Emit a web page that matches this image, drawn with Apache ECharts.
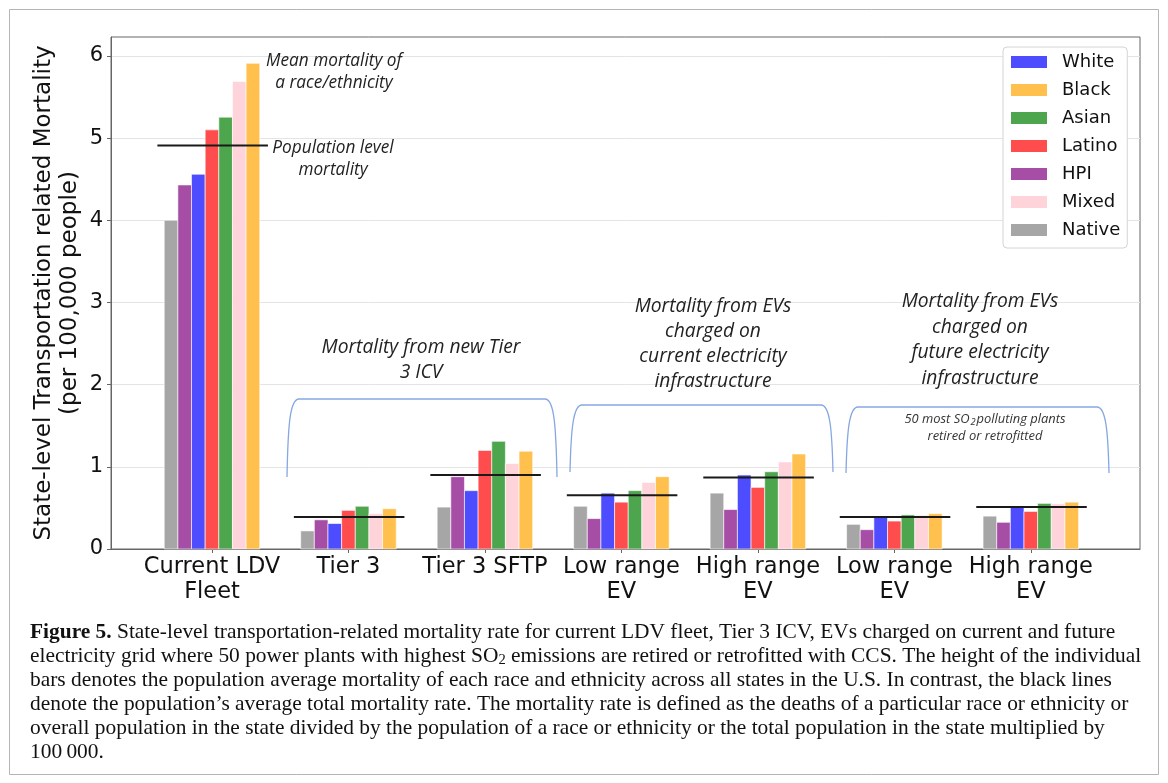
<!DOCTYPE html>
<html><head><meta charset="utf-8">
<script src="https://cdn.jsdelivr.net/npm/echarts@6/dist/echarts.min.js"></script>
<style>html,body{margin:0;padding:0;background:#fff}#c{width:1168px;height:783px}</style>
</head><body><div id="c"></div>
<script>
// ---- data ----
const categories = ['Current LDV\nFleet', 'Tier 3', 'Tier 3 SFTP', 'Low range\nEV', 'High range\nEV', 'Low range\nEV', 'High range\nEV'];
const native = [4.00, 0.22, 0.51, 0.52, 0.68, 0.30, 0.40];
const hpi    = [4.43, 0.355, 0.88, 0.37, 0.48, 0.235, 0.325];
const white  = [4.56, 0.31, 0.71, 0.68, 0.90, 0.39, 0.51];
const latino = [5.10, 0.47, 1.20, 0.57, 0.75, 0.34, 0.457];
const asian  = [5.255, 0.52, 1.31, 0.71, 0.94, 0.415, 0.555];
const mixed  = [5.69, 0.43, 1.04, 0.81, 1.06, 0.41, 0.55];
const black  = [5.91, 0.49, 1.19, 0.88, 1.156, 0.43, 0.57];
const population = [4.91, 0.39, 0.90, 0.654, 0.87, 0.39, 0.51];
const yTicks = [0, 1, 2, 3, 4, 5, 6];
const legendOrder = ['White', 'Black', 'Asian', 'Latino', 'HPI', 'Mixed', 'Native'];

// ---- drawing ----
const catIdx = categories.map((c, i) => i);
const seriesDefs = [
  {name: 'Native', data: native, color: '#A6A6A6'},
  {name: 'HPI', data: hpi, color: '#A64DA6'},
  {name: 'White', data: white, color: '#4D4DFF'},
  {name: 'Latino', data: latino, color: '#FF4D4D'},
  {name: 'Asian', data: asian, color: '#4DA64D'},
  {name: 'Mixed', data: mixed, color: '#FFD3DA'},
  {name: 'Black', data: black, color: '#FFC04D'}
];
const BW = 0.1;
function barRenderer(slot, color) {
  return function (params, api) {
    const x = api.value(0) + (slot - 3) * BW;
    const v = api.value(1);
    const a = api.coord([x - BW / 2, 0]);
    const b = api.coord([x + BW / 2, v]);
    return {type: 'rect', shape: {x: a[0], y: b[1], width: b[0] - a[0], height: a[1] - b[1]},
      style: {fill: color, stroke: '#ffffff', lineWidth: 0.6}};
  };
}
const series = seriesDefs.map((d, k) => ({
  name: d.name, type: 'custom', coordinateSystem: 'cartesian2d',
  itemStyle: {color: d.color},
  renderItem: barRenderer(k, d.color),
  data: catIdx.map(i => [i, d.data[i]]), z: 2, clip: false
}));
series.push({
  name: 'Population', type: 'custom', coordinateSystem: 'cartesian2d', z: 5,
  renderItem: function (params, api) {
    const i = api.value(0), v = api.value(1);
    const a = api.coord([i - 0.40, v]), b = api.coord([i + 0.41, v]);
    return {type: 'line', shape: {x1: a[0], y1: a[1], x2: b[0], y2: b[1]}, style: {stroke: '#1a1a1a', lineWidth: 2}};
  },
  data: catIdx.map(i => [i, population[i]])
});

// text-size fitting helper
const mctx = document.createElement('canvas').getContext('2d');
function fitSize(text, family, style, weight, target) {
  mctx.font = style + ' ' + weight + ' 100px ' + family;
  return 100 * target / mctx.measureText(text).width;
}

const braceStyle = {fill: null, stroke: '#86A7E2', lineWidth: 1.3};
function brace(x1, x2, yTop, yBot) {
  return [
    {type: 'bezierCurve', silent: true, z: 10, style: braceStyle,
      shape: {x1: x1, y1: yBot, cpx1: x1 + 1, cpy1: yTop + 25, cpx2: x1 + 3, cpy2: yTop, x2: x1 + 12, y2: yTop}},
    {type: 'line', silent: true, z: 10, style: braceStyle,
      shape: {x1: x1 + 12, y1: yTop, x2: x2 - 12, y2: yTop}},
    {type: 'bezierCurve', silent: true, z: 10, style: braceStyle,
      shape: {x1: x2, y1: yBot, cpx1: x2 - 1, cpy1: yTop + 25, cpx2: x2 - 3, cpy2: yTop, x2: x2 - 12, y2: yTop}}
  ];
}
const annFont = '"Open Sans", Lato, sans-serif';
const sizeSmallAnn = fitSize('Mean mortality of', annFont, 'italic', 'normal', 136);
const sizeGroupAnn = fitSize('Mortality from new Tier', annFont, 'italic', 'normal', 199);
const sizeTinyAnn = fitSize('retired or retrofitted', annFont, 'italic', 'normal', 115);
function ann(text, x, y, size, lh) {
  return {type: 'text', x: x, y: y, z: 10, silent: true,
    style: {text: text, textAlign: 'center', textVerticalAlign: 'middle', fontStyle: 'italic',
      fontSize: size, fontFamily: annFont, lineHeight: lh, fill: '#222'}};
}
const capFamily = '"Liberation Serif", "DejaVu Serif", serif';
const capSize = fitSize('bars denotes the population average mortality of each race and ethnicity across all states in the U.S. In contrast, the black lines', capFamily, 'normal', 'normal', 1083);
const capBase = {fontFamily: capFamily, fontSize: capSize, fill: '#111', lineHeight: 24};
const capRich = {
  n: capBase,
  b: Object.assign({}, capBase, {fontWeight: 'bold'}),
  s: Object.assign({}, capBase, {fontSize: capSize * 0.68, lineHeight: 24, padding: [9, 0, 0, 0]})
};
const capLines = [
  '{b|Figure 5.}{n| State-level transportation-related mortality rate for current LDV fleet, Tier 3 ICV, EVs charged on current and future}',
  '{n|electricity grid where 50 power plants with highest SO}{s|2}{n| emissions are retired or retrofitted with CCS. The height of the individual}',
  '{n|bars denotes the population average mortality of each race and ethnicity across all states in the U.S. In contrast, the black lines}',
  '{n|denote the population\u2019s average total mortality rate. The mortality rate is defined as the deaths of a particular race or ethnicity or}',
  '{n|overall population in the state divided by the population of a race or ethnicity or the total population in the state multiplied by}',
  '{n|100\u2009000.}'
];
const graphics = [
  {type: 'rect', shape: {x: 9.5, y: 9.5, width: 1149, height: 765}, style: {fill: null, stroke: '#b5b5b5', lineWidth: 1}, silent: true, z: 0}
].concat(
  brace(287, 557, 399, 477),
  brace(570, 833, 405, 472),
  brace(846, 1109, 407, 473),
  [
    ann('Mean mortality of\na race/ethnicity', 334, 72, sizeSmallAnn, 22),
    ann('Population level\nmortality', 333, 159, sizeSmallAnn, 22),
    ann('Mortality from new Tier\n3 ICV', 421, 360, sizeGroupAnn, 25),
    ann('Mortality from EVs\ncharged on\ncurrent electricity\ninfrastructure', 713, 344, sizeGroupAnn, 25),
    ann('Mortality from EVs\ncharged on\nfuture electricity\ninfrastructure', 980, 340, sizeGroupAnn, 25.5),
    {type: 'text', x: 985, y: 428, z: 10, silent: true,
      style: {text: '{a|50 most SO}{s|2}{a|polluting plants}\n{a|retired or retrofitted}', textAlign: 'center', textVerticalAlign: 'middle',
        rich: {a: {fontStyle: 'italic', fontSize: sizeTinyAnn, fontFamily: annFont, fill: '#333', lineHeight: 17},
               s: {fontStyle: 'italic', fontSize: sizeTinyAnn * 0.72, fontFamily: annFont, fill: '#333', lineHeight: 17, padding: [5, 1, 0, 1]}}}}
  ]
);
capLines.forEach((t, i) => {
  graphics.push({type: 'text', x: 30, y: 632 + i * 24, silent: true,
    style: {text: t, textAlign: 'left', textVerticalAlign: 'middle', rich: capRich}});
});

const chart = echarts.init(document.getElementById('c'), null, {renderer: 'canvas'});
chart.setOption({
  animation: false,
  backgroundColor: '#ffffff',
  grid: {left: 111, right: 28, top: 37, bottom: 234, show: true, borderColor: '#666', borderWidth: 1, backgroundColor: 'transparent'},
  legend: {
    data: legendOrder, orient: 'vertical', left: 1003, top: 47, icon: 'rect',
    itemWidth: 36, itemHeight: 12, itemGap: 8,
    padding: [5, 7, 8, 8], borderColor: '#d4d4d4', borderWidth: 1, borderRadius: 4, backgroundColor: '#ffffff',
    textStyle: {fontSize: 18, lineHeight: 20, color: '#111', fontFamily: '"DejaVu Sans", sans-serif', padding: [0, 0, 0, 10]}
  },
  xAxis: {
    type: 'value', min: -0.74, max: 6.8,
    splitLine: {show: false},
    axisLine: {show: true, onZero: false, lineStyle: {color: '#666'}},
    axisTick: {show: true, customValues: catIdx, length: 4, lineStyle: {color: '#666'}},
    axisLabel: {customValues: catIdx, formatter: v => categories[Math.round(v)], fontSize: 22.5, lineHeight: 25,
      color: '#111', margin: 6, fontFamily: '"DejaVu Sans", sans-serif'}
  },
  yAxis: {
    type: 'value', min: 0, max: 6.23, interval: 1,
    name: 'State-level Transportation related Mortality\n(per 100,000 people)',
    nameLocation: 'middle', nameGap: 28, nameMoveOverlap: false,
    nameTextStyle: {fontSize: 23, lineHeight: 26, color: '#111', fontFamily: '"DejaVu Sans", sans-serif'},
    axisLine: {show: true, onZero: false, lineStyle: {color: '#666'}},
    axisTick: {show: true, customValues: yTicks, length: 4, lineStyle: {color: '#666'}},
    axisLabel: {customValues: yTicks, fontSize: 21, color: '#111', margin: 8, fontFamily: '"DejaVu Sans", sans-serif'},
    splitLine: {show: true, lineStyle: {color: '#e4e4e4', width: 1}}
  },
  series: series,
  graphic: graphics
});
</script>
</body></html>
